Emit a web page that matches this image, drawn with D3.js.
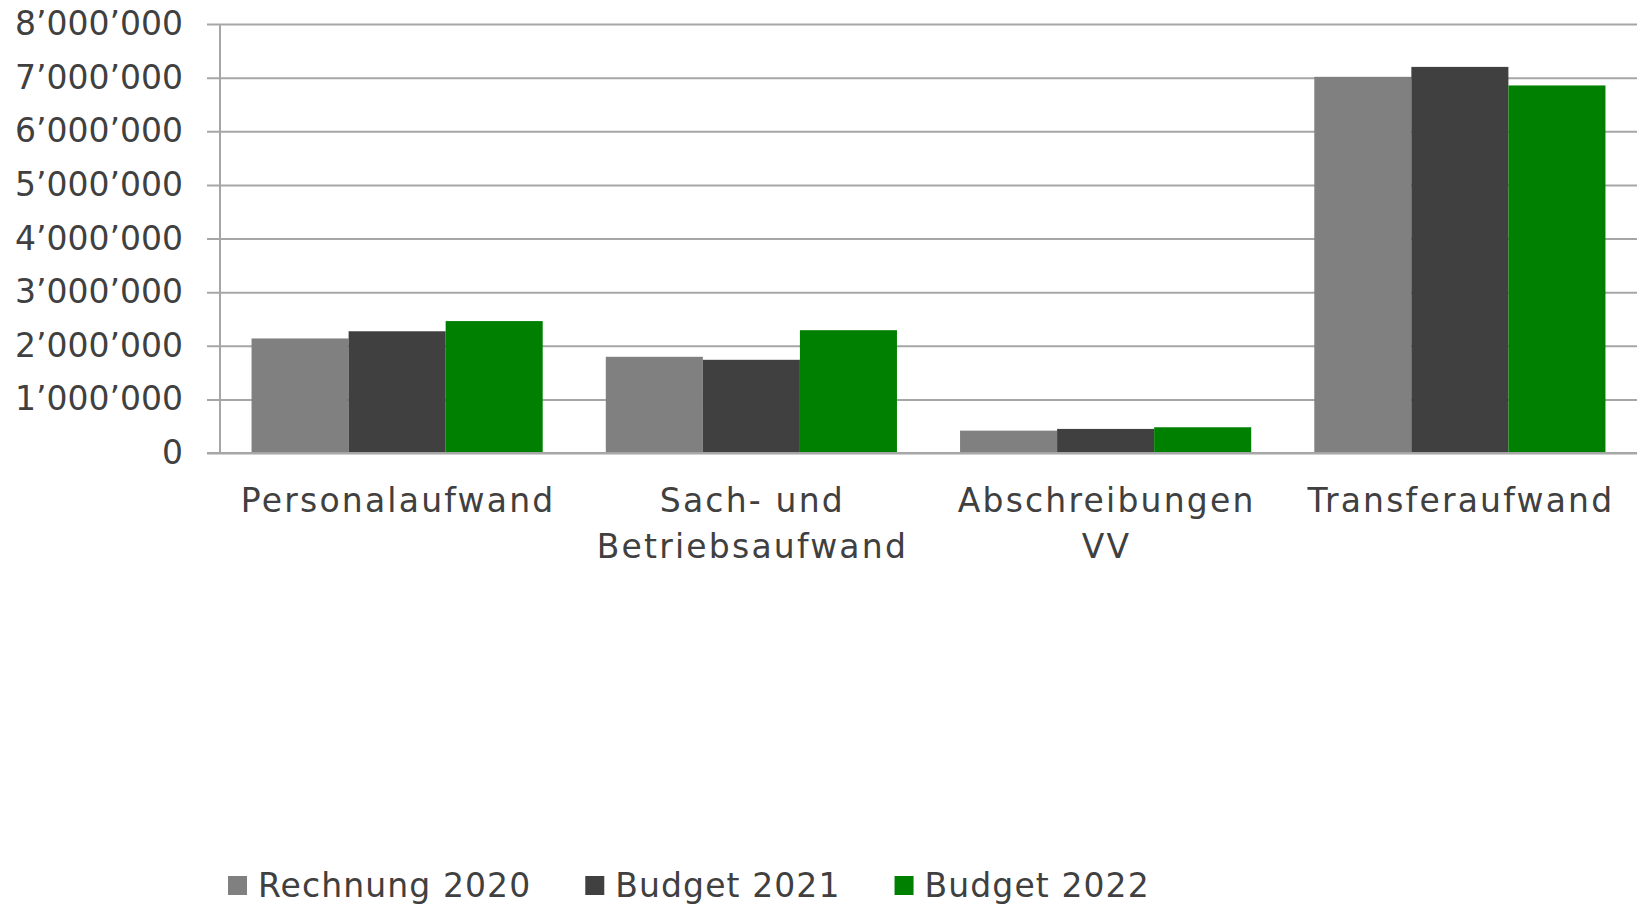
<!DOCTYPE html>
<html lang="de">
<head>
    <meta charset="UTF-8">
    <title>Aufwand nach Sachgruppen</title>
    <style>
        body {
            margin: 0;
            background: #fff;
        }
        svg text {
            font-family: "DejaVu Sans", sans-serif;
            fill: #404040;
        }
        .grid line, .grid path {
            stroke: #a6a6a6;
            stroke-width: 2px;
        }
    </style>
    <script src="https://d3js.org/d3.v7.min.js"></script>
</head>
<body>
    <svg width="1640" height="907"></svg>
    <script>
        // data
        const categories = ["Personalaufwand", "Sach- und\nBetriebsaufwand", "Abschreibungen\nVV", "Transferaufwand"];
        const seriesNames = ["Rechnung 2020", "Budget 2021", "Budget 2022"];
        const colors = ["#808080", "#404040", "#008000"];
        const rechnung2020 = [2136000, 1794000, 417000, 7015000];
        const budget2021 = [2270000, 1738000, 449000, 7200000];
        const budget2022 = [2460000, 2290000, 480000, 6854000];
        const yTicks = [0, 1000000, 2000000, 3000000, 4000000, 5000000, 6000000, 7000000, 8000000];

        const seriesValues = [rechnung2020, budget2021, budget2022];

        const svg = d3.select("svg");
        const plotLeft = 220, plotRight = 1637, plotTop = 24, plotBottom = 453;

        const x0 = d3.scaleBand()
            .domain(categories)
            .range([plotLeft, plotRight]);

        const x1 = d3.scaleBand()
            .domain(seriesNames)
            .range([0, x0.bandwidth()])
            .paddingInner(0)
            .paddingOuter(0.325);

        const y = d3.scaleLinear()
            .domain([0, 8000000])
            .range([plotBottom, plotTop]);

        const fmt = d => d3.format(",")(d).replace(/,/g, "\u2019");

        // gridlines + y labels
        const grid = svg.append("g")
            .attr("class", "grid")
            .attr("transform", "translate(207,0)")
            .call(d3.axisLeft(y)
                .tickValues(yTicks)
                .tickSize(-(plotRight - 207))
                .tickPadding(24)
                .tickFormat(fmt));
        grid.select(".domain").remove();
        grid.selectAll("text")
            .style("font-size", "33px")
            .attr("fill", "#404040");

        // vertical axis line
        svg.append("line")
            .attr("x1", plotLeft).attr("x2", plotLeft)
            .attr("y1", plotTop).attr("y2", plotBottom)
            .attr("stroke", "#a6a6a6")
            .attr("stroke-width", 2);

        // bars
        const groups = svg.append("g")
            .selectAll("g")
            .data(categories)
            .join("g")
            .attr("transform", d => `translate(${x0(d)},0)`);

        groups.selectAll("rect")
            .data((d, i) => seriesNames.map((s, j) => ({ s: s, v: seriesValues[j][i], c: colors[j] })))
            .join("rect")
            .attr("x", d => x1(d.s))
            .attr("width", x1.bandwidth())
            .attr("y", d => y(d.v))
            .attr("height", d => y(0) - y(d.v))
            .attr("fill", d => d.c);

        // baseline on top of bars
        svg.append("line")
            .attr("x1", 207).attr("x2", plotRight)
            .attr("y1", plotBottom).attr("y2", plotBottom)
            .attr("stroke", "#a6a6a6")
            .attr("stroke-width", 2);

        // category labels
        const catLabels = svg.append("g")
            .selectAll("text")
            .data(categories)
            .join("text")
            .attr("text-anchor", "middle")
            .style("font-size", "33px")
            .style("letter-spacing", "2.2px");

        catLabels.selectAll("tspan")
            .data(d => d.split("\n").map(line => ({ line: line, cx: x0(d) + x0.bandwidth() / 2 + 1 })))
            .join("tspan")
            .attr("x", d => d.cx)
            .attr("y", (d, i) => 512 + i * 46)
            .text(d => d.line);

        // legend
        const legend = svg.append("g");
        let lx = 228;
        seriesNames.forEach((name, i) => {
            legend.append("rect")
                .attr("x", lx)
                .attr("y", 876)
                .attr("width", 19)
                .attr("height", 19)
                .attr("fill", colors[i]);
            const t = legend.append("text")
                .attr("x", lx + 30)
                .attr("y", 897)
                .style("font-size", "33px")
                .style("letter-spacing", "1.1px")
                .text(name);
            lx += 30 + t.node().getComputedTextLength() + 54;
        });
    </script>
</body>
</html>
